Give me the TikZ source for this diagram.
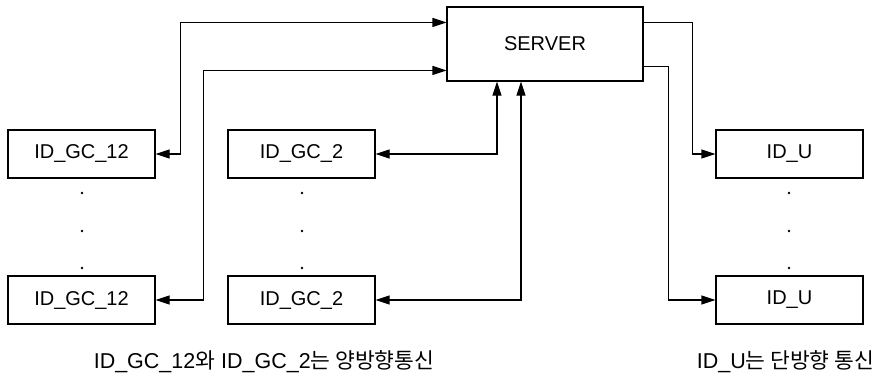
\documentclass[tikz,border=0pt]{standalone}
\usepackage{fontspec}
\setmainfont{Liberation Sans}
\newfontfamily\kr{Noto Sans CJK KR}
\usetikzlibrary{arrows.meta}
\begin{document}
\begin{tikzpicture}[x=1pt,y=-1pt,
  font=\fontsize{20}{23}\selectfont,
  line width=1.1pt,
  >={Triangle[length=14pt,width=9pt]},
  box/.style={draw, minimum width=147pt, minimum height=48pt, inner sep=0pt},
  both/.style={<->},
  one/.style={->},
  caption/.style={font=\fontsize{21.5}{24}\selectfont}]
\useasboundingbox (0,0) rectangle (886,386);

% central server
\node[box, minimum width=196pt, minimum height=74pt] (server) at (545,44) {SERVER};

% left column: ID_GC_12
\node[box] (gc12a) at (81.5,154) {ID\_GC\_12};
\node[box] (gc12b) at (81.5,300) {ID\_GC\_12};

% middle column: ID_GC_2
\node[box] (gc2a) at (301.5,154) {ID\_GC\_2};
\node[box] (gc2b) at (301.5,300) {ID\_GC\_2};

% right column: ID_U
\node[box] (ua) at (789.5,154) {ID\_U};
\node[box] (ub) at (789.5,300) {ID\_U};

% ellipsis dots between the boxes of each column
\foreach \x in {82,302,789}
  \foreach \y in {193,231,268}
    \fill (\x,\y) circle[radius=1.3pt];

% two-way links
\draw[both] (gc12a.east) -- ++(25,0) |- ([yshift=-16pt]server.north west);
\draw[both] (gc12b.east) -- ++(48,0) |- ([yshift=-64pt]server.north west);
\draw[both] (gc2a.east) -| ([xshift=-48pt]server.south);
\draw[both] (gc2b.east) -| ([xshift=-24pt]server.south);

% one-way links
\draw[one] ([yshift=-16pt]server.north east) -- ++(49,0) |- (ua.west);
\draw[one] ([yshift=-60pt]server.north east) -- ++(25,0) |- (ub.west);

% captions
\node[caption] (cap1) at (264,362) {ID\_GC\_12{\kr 와} ID\_GC\_2{\kr 는 양방향통신}};
\node[caption] (cap2) at (785.5,362) {ID\_U{\kr 는 단방향 통신}};
\end{tikzpicture}
\end{document}
